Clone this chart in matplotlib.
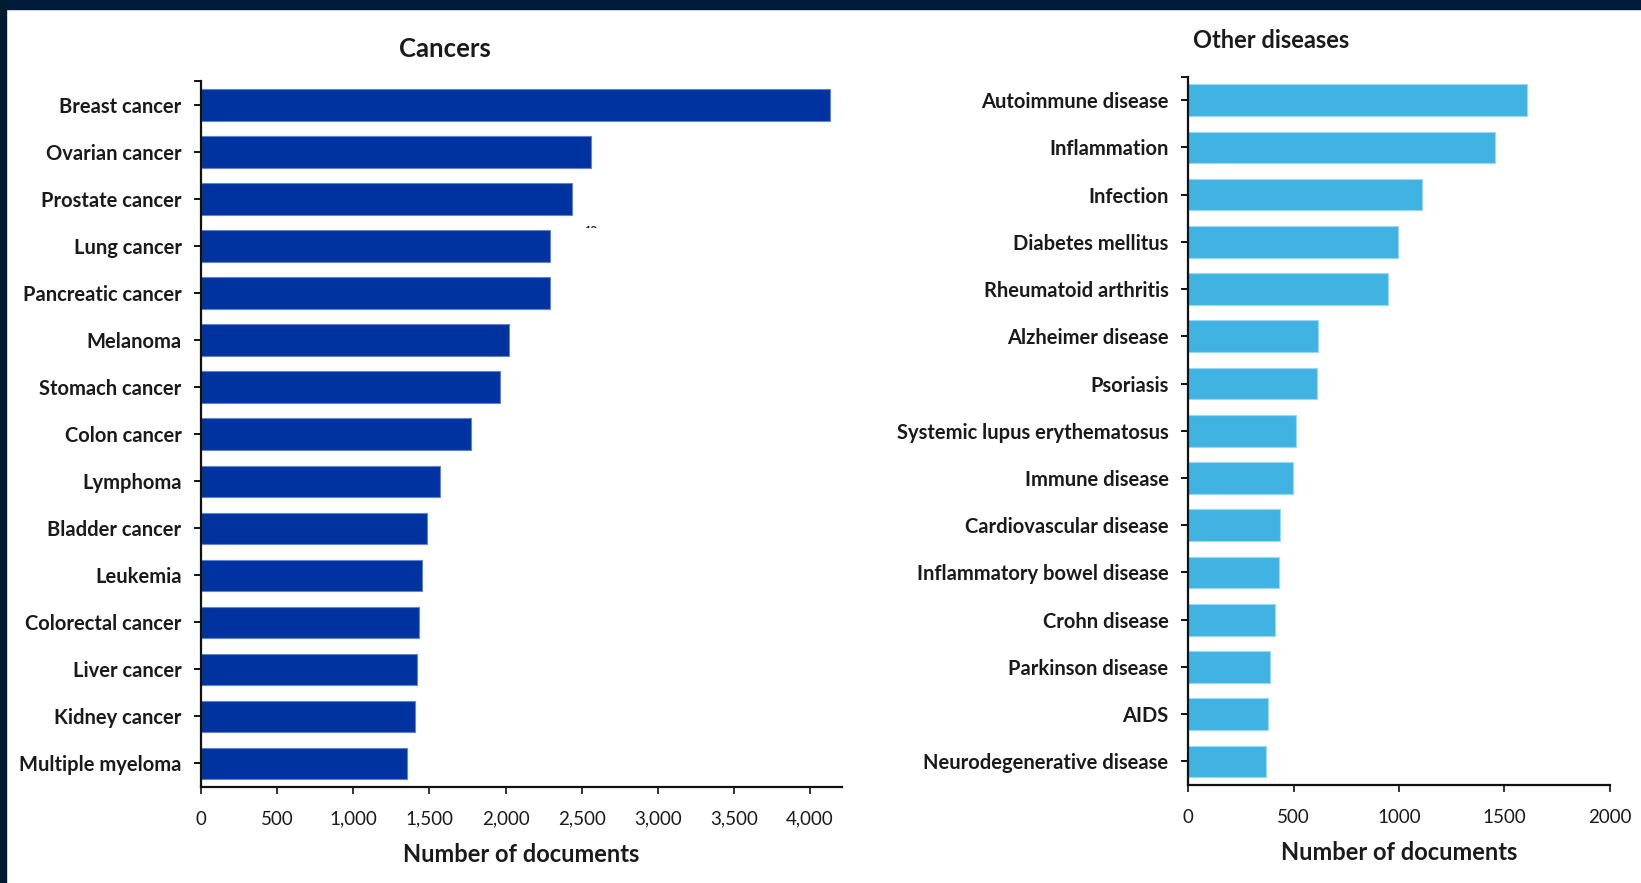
import matplotlib
matplotlib.use("Agg")
import matplotlib.pyplot as plt
from matplotlib.patches import Rectangle
from matplotlib.transforms import Bbox
import numpy as np

# document counts per disease
cancers = ["Breast cancer", "Ovarian cancer", "Prostate cancer", "Lung cancer",
           "Pancreatic cancer", "Melanoma", "Stomach cancer", "Colon cancer",
           "Lymphoma", "Bladder cancer", "Leukemia", "Colorectal cancer",
           "Liver cancer", "Kidney cancer", "Multiple myeloma"]
cancer_docs = [4128, 2560, 2435, 2292, 2290, 2023, 1962, 1775,
               1568, 1482, 1454, 1432, 1421, 1408, 1353]

others = ["Autoimmune disease", "Inflammation", "Infection", "Diabetes mellitus",
          "Rheumatoid arthritis", "Alzheimer disease", "Psoriasis",
          "Systemic lupus erythematosus", "Immune disease", "Cardiovascular disease",
          "Inflammatory bowel disease", "Crohn disease", "Parkinson disease",
          "AIDS", "Neurodegenerative disease"]
other_docs = [1606, 1457, 1107, 996, 949, 618, 610, 512, 496, 436, 429, 413,
              390, 377, 372]

cancer_ticks = [0, 500, 1000, 1500, 2000, 2500, 3000, 3500, 4000]
cancer_tick_labels = ["0", "500", "1,000", "1,500", "2,000", "2,500", "3,000",
                      "3,500", "4,000"]
other_ticks = [0, 500, 1000, 1500, 2000]
other_tick_labels = ["0", "500", "1000", "1500", "2000"]

W, H = 1641, 883
TXT = "#1a1a1a"
FONT = "Lato"

fig = plt.figure(figsize=(W / 100, H / 100), dpi=100)
fig.patch.set_facecolor("white")

# dark band along the top and left edge
fig.patches.append(Rectangle((0, 1 - 9 / H), 1, 9 / H, transform=fig.transFigure,
                             color="#031b3a", zorder=0))
fig.patches.append(Rectangle((0, 0), 6 / W, 1, transform=fig.transFigure,
                             color="#031b30", zorder=0))


def px_axes(x0, x1, ytop, ybot):
    return fig.add_axes([x0 / W, 1 - ybot / H, (x1 - x0) / W, (ybot - ytop) / H])


def draw_panel(ax, labels, values, color, edge, xmax, ticks, tick_labels):
    y = np.arange(len(labels))
    ax.barh(y, values, height=0.67, color=color, edgecolor=edge, linewidth=0.8)
    ax.set_ylim(len(labels) - 0.5, -0.5)
    ax.set_xlim(0, xmax)
    ax.set_yticks(y)
    ax.set_yticklabels(labels, fontsize=14.5, fontweight="bold", color=TXT,
                       family=FONT)
    ax.set_yticks([-0.5], minor=True)
    ax.set_xticks(ticks)
    ax.set_xticklabels(tick_labels, fontsize=13.5, color=TXT, family=FONT)
    for s in ("top", "right"):
        ax.spines[s].set_visible(False)
    for s in ("left", "bottom"):
        ax.spines[s].set_linewidth(1.6)
        ax.spines[s].set_color("#111111")
    ax.tick_params(axis="y", which="both", length=5, width=1.4, pad=9,
                   color="#111111")
    ax.tick_params(axis="x", length=5, width=1.2, pad=12, color="#111111")
    ax.set_xlabel("Number of documents", fontsize=17, fontweight="bold",
                  color=TXT, family=FONT, labelpad=11)


ax1 = px_axes(201, 842, 81.5, 787)
draw_panel(ax1, cancers, cancer_docs, "#0033a0", "#5f84d4", 4210,
           cancer_ticks, cancer_tick_labels)

ax2 = px_axes(1188, 1610, 76.5, 785)
draw_panel(ax2, others, other_docs, "#41b3e3", "#9ad8f2", 2000,
           other_ticks, other_tick_labels)

fig.text(445 / W, 1 - 49 / H, "Cancers", fontsize=18.5, fontweight="bold",
         color=TXT, family=FONT, ha="center", va="center")
fig.text(1271 / W, 1 - 41 / H, "Other diseases", fontsize=17, fontweight="bold",
         color=TXT, family=FONT, ha="center", va="center")

# stray reference marker, only its upper edge shows
t = fig.text(591 / W, 1 - 230 / H, "10", fontsize=8, fontweight="bold",
             color=TXT, family=FONT, ha="center", va="center")
t.set_clip_box(Bbox([[570, H - 228], [615, H - 215]]))
t.set_clip_on(True)

fig.savefig("out.png", dpi=100, facecolor="white")
